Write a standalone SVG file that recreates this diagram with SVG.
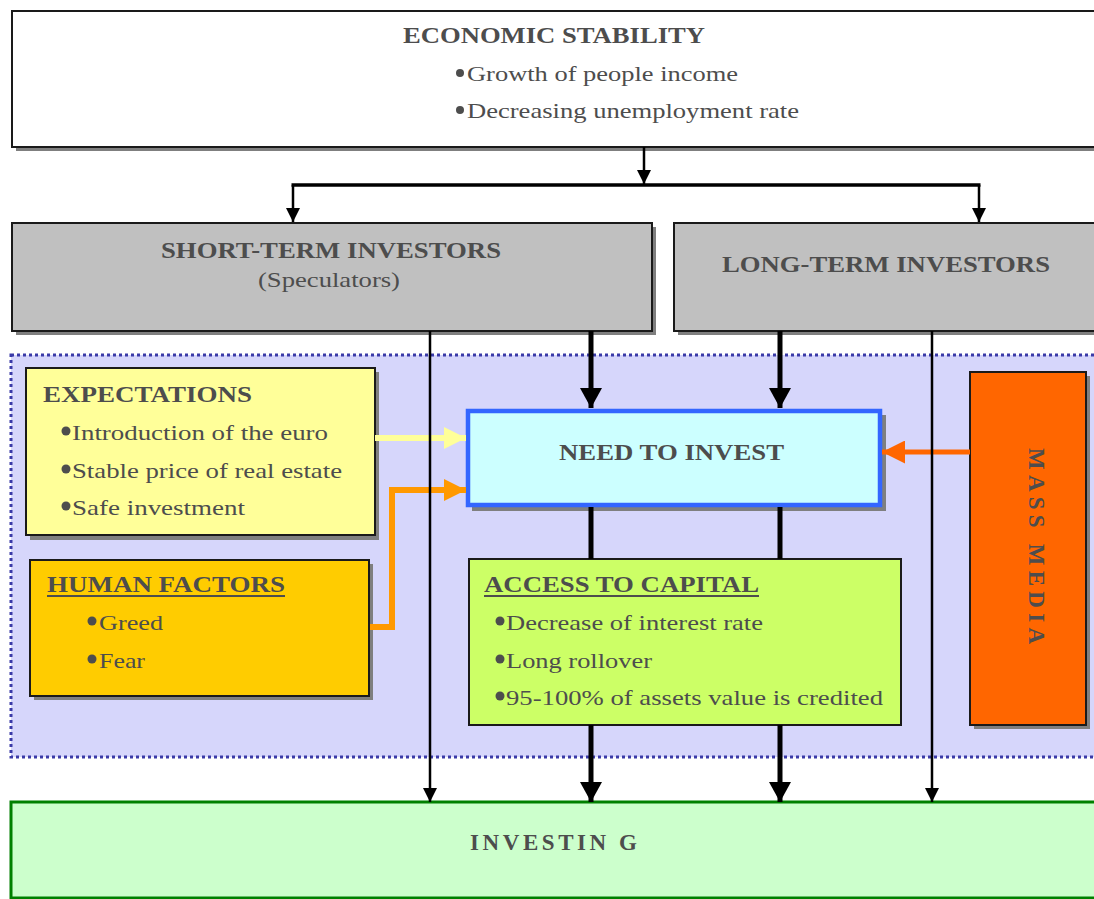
<svg xmlns="http://www.w3.org/2000/svg" width="1094" height="899" viewBox="0 0 1094 899">
  <style>
    .title { font-family: "Liberation Serif", serif; font-weight: bold; font-size: 23px; fill: #4d4d4d; }
    .body { font-family: "Liberation Serif", serif; font-size: 21px; fill: #4d4d4d; }
    .shadow { fill: #7f7f7f; }
    .box { stroke: #1a1a1a; stroke-width: 2; }
    .dot { fill: #4d4d4d; }
    .thin { stroke: #000; stroke-width: 2.5; fill: none; }
    .thick { stroke: #000; stroke-width: 5; fill: none; }
  </style>
  <defs>
    <marker id="ah-thin" markerUnits="userSpaceOnUse" markerWidth="14" markerHeight="14" refX="14" refY="7" orient="auto">
      <path d="M0,0 L14,7 L0,14 z" fill="#000"/>
    </marker>
    <marker id="ah-thick" markerUnits="userSpaceOnUse" markerWidth="20" markerHeight="22" refX="20" refY="11" orient="auto">
      <path d="M0,0 L20,11 L0,22 z" fill="#000"/>
    </marker>
    <marker id="ah-yellow" markerUnits="userSpaceOnUse" markerWidth="22" markerHeight="22" refX="22" refY="11" orient="auto">
      <path d="M0,0 L22,11 L0,22 z" fill="#ffff99"/>
    </marker>
    <marker id="ah-orange" markerUnits="userSpaceOnUse" markerWidth="22" markerHeight="22" refX="22" refY="11" orient="auto">
      <path d="M0,0 L22,11 L0,22 z" fill="#ff9900"/>
    </marker>
    <marker id="ah-red" markerUnits="userSpaceOnUse" markerWidth="23" markerHeight="23" refX="23" refY="11.5" orient="auto">
      <path d="M0,0 L23,11.5 L0,23 z" fill="#ff6600"/>
    </marker>
  </defs>

  <rect x="0" y="0" width="1094" height="899" fill="#ffffff"/>

  <!-- shaded region holding the drivers of investing -->
  <g id="drivers-region">
    <rect x="11" y="355" width="1090" height="402" fill="#d6d6fb" stroke="#3a3aa8" stroke-width="3" stroke-dasharray="3 3"/>
  </g>

  <g id="economic-stability">
    <rect class="shadow" x="16" y="15" width="1090" height="136"/>
    <rect class="box" x="12" y="11" width="1090" height="136" fill="#ffffff"/>
    <text class="title" x="403" y="43" textLength="302" lengthAdjust="spacingAndGlyphs">ECONOMIC STABILITY</text>
    <circle class="dot" cx="460" cy="73" r="4"/>
    <text class="body" x="467" y="81" font-size="20" textLength="271" lengthAdjust="spacingAndGlyphs">Growth of people income</text>
    <circle class="dot" cx="460" cy="110" r="4"/>
    <text class="body" x="467" y="118" font-size="20" textLength="332" lengthAdjust="spacingAndGlyphs">Decreasing unemployment rate</text>
  </g>

  <g id="short-term-investors">
    <rect class="shadow" x="16" y="227" width="640" height="108"/>
    <rect class="box" x="12" y="223" width="640" height="108" fill="#c0c0c0"/>
    <text class="title" x="161" y="258" textLength="340" lengthAdjust="spacingAndGlyphs">SHORT-TERM INVESTORS</text>
    <text class="body" x="258" y="287" textLength="142" lengthAdjust="spacingAndGlyphs">(Speculators)</text>
  </g>

  <g id="long-term-investors">
    <rect class="shadow" x="678" y="227" width="430" height="108"/>
    <rect class="box" x="674" y="223" width="430" height="108" fill="#c0c0c0"/>
    <text class="title" x="722" y="272" textLength="328" lengthAdjust="spacingAndGlyphs">LONG-TERM INVESTORS</text>
  </g>

  <g id="expectations">
    <rect class="shadow" x="30" y="372" width="349" height="168"/>
    <rect class="box" x="26" y="368" width="349" height="167" fill="#ffff99"/>
    <text class="title" x="43" y="402" textLength="209" lengthAdjust="spacingAndGlyphs">EXPECTATIONS</text>
    <circle class="dot" cx="66" cy="431" r="4.5"/>
    <text class="body" x="72" y="440" textLength="256" lengthAdjust="spacingAndGlyphs">Introduction of the euro</text>
    <circle class="dot" cx="66" cy="469" r="4.5"/>
    <text class="body" x="72" y="478" textLength="270" lengthAdjust="spacingAndGlyphs">Stable price  of real estate</text>
    <circle class="dot" cx="66" cy="506" r="4.5"/>
    <text class="body" x="72" y="515" textLength="173" lengthAdjust="spacingAndGlyphs">Safe investment</text>
  </g>

  <g id="human-factors">
    <rect class="shadow" x="34" y="564" width="339" height="136"/>
    <rect class="box" x="30" y="560" width="339" height="136" fill="#ffcc00"/>
    <text class="title" x="47" y="592" textLength="238" lengthAdjust="spacingAndGlyphs">HUMAN FACTORS</text>
    <line x1="47" y1="596" x2="285" y2="596" stroke="#4d4d4d" stroke-width="2"/>
    <circle class="dot" cx="92" cy="621" r="4.5"/>
    <text class="body" x="99" y="630" textLength="64" lengthAdjust="spacingAndGlyphs">Greed</text>
    <circle class="dot" cx="92" cy="659" r="4.5"/>
    <text class="body" x="99" y="668" textLength="46" lengthAdjust="spacingAndGlyphs">Fear</text>
  </g>

  <g id="need-to-invest">
    <rect class="shadow" x="472" y="415" width="414" height="96"/>
    <rect x="468" y="411" width="412" height="94" fill="#ccffff" stroke="#3366ff" stroke-width="4.5"/>
    <text class="title" x="559" y="460" textLength="225" lengthAdjust="spacingAndGlyphs">NEED TO INVEST</text>
  </g>

  <g id="access-to-capital">
    <rect class="box" x="469" y="559" width="432" height="166" fill="#ccff66"/>
    <text class="title" x="484" y="592" textLength="275" lengthAdjust="spacingAndGlyphs">ACCESS TO CAPITAL</text>
    <line x1="484" y1="596" x2="759" y2="596" stroke="#4d4d4d" stroke-width="2"/>
    <circle class="dot" cx="500" cy="621" r="4.5"/>
    <text class="body" x="506" y="630" textLength="257" lengthAdjust="spacingAndGlyphs">Decrease of interest rate</text>
    <circle class="dot" cx="500" cy="659" r="4.5"/>
    <text class="body" x="506" y="668" textLength="146" lengthAdjust="spacingAndGlyphs">Long rollover</text>
    <circle class="dot" cx="500" cy="696" r="4.5"/>
    <text class="body" x="506" y="705" textLength="377" lengthAdjust="spacingAndGlyphs">95-100% of assets value is credited</text>
  </g>

  <g id="mass-media">
    <rect class="shadow" x="974" y="376" width="116" height="353"/>
    <rect class="box" x="970" y="372" width="116" height="353" fill="#ff6600"/>
    <text class="title" transform="translate(1029,448) rotate(90)" x="0" y="0" font-size="25" textLength="196" lengthAdjust="spacing">MASS MEDIA</text>
  </g>

  <g id="investing">
    <rect x="11" y="802" width="1095" height="96" fill="#ccffcc" stroke="#008000" stroke-width="3"/>
    <text class="title" x="470" y="850" textLength="167" lengthAdjust="spacing">INVESTIN G</text>
  </g>

  <g id="connectors">
    <!-- economic stability splits into both investor groups -->
    <line class="thin" x1="644" y1="147" x2="644" y2="184" marker-end="url(#ah-thin)"/>
    <line x1="291.5" y1="185" x2="980.5" y2="185" stroke="#000" stroke-width="3.5"/>
    <line class="thin" x1="293" y1="185" x2="293" y2="222" marker-end="url(#ah-thin)"/>
    <line class="thin" x1="979" y1="185" x2="979" y2="222" marker-end="url(#ah-thin)"/>

    <!-- influences feeding the need to invest -->
    <line x1="375" y1="438" x2="466" y2="438" stroke="#ffff99" stroke-width="6" marker-end="url(#ah-yellow)"/>
    <path d="M370,627 H392 V490 H466" stroke="#ff9900" stroke-width="6" fill="none" marker-end="url(#ah-orange)"/>
    <line x1="970" y1="452" x2="882" y2="452" stroke="#ff6600" stroke-width="5" marker-end="url(#ah-red)"/>

    <!-- direct paths from investors to investing -->
    <line class="thin" x1="430" y1="331" x2="430" y2="802" marker-end="url(#ah-thin)"/>
    <line class="thin" x1="932" y1="331" x2="932" y2="802" marker-end="url(#ah-thin)"/>

    <!-- paths through need to invest and access to capital -->
    <line class="thick" x1="591" y1="331" x2="591" y2="408" marker-end="url(#ah-thick)"/>
    <line class="thick" x1="780" y1="331" x2="780" y2="408" marker-end="url(#ah-thick)"/>
    <line class="thick" x1="591" y1="507" x2="591" y2="559"/>
    <line class="thick" x1="780" y1="507" x2="780" y2="559"/>
    <line class="thick" x1="591" y1="725" x2="591" y2="802" marker-end="url(#ah-thick)"/>
    <line class="thick" x1="780" y1="725" x2="780" y2="802" marker-end="url(#ah-thick)"/>
  </g>
</svg>
